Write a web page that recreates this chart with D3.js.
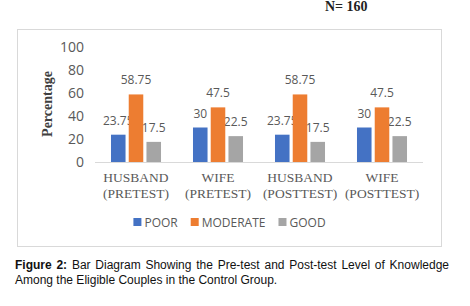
<!DOCTYPE html>
<html>
<head>
<meta charset="utf-8">
<script src="https://cdn.jsdelivr.net/npm/d3@7"></script>
<style>
  body { margin: 0; background: #fff; }
  svg { display: block; }
</style>
</head>
<body>
<div id="chart"></div>
<script>
// chart values
const groups = ["HUSBAND (PRETEST)", "WIFE (PRETEST)", "HUSBAND (POSTTEST)", "WIFE (POSTTEST)"];
const groupLines = [["HUSBAND", "(PRETEST)"], ["WIFE", "(PRETEST)"], ["HUSBAND", "(POSTTEST)"], ["WIFE", "(POSTTEST)"]];
const seriesNames = ["POOR", "MODERATE", "GOOD"];
const poor = [23.75, 30, 23.75, 30];
const moderate = [58.75, 47.5, 58.75, 47.5];
const good = [17.5, 22.5, 17.5, 22.5];
const yTicks = [0, 20, 40, 60, 80, 100];

const series = [poor, moderate, good];
const colors = ["#4472C4", "#ED7D31", "#A5A5A5"];

var width = 470, height = 306;

var svg = d3.select("#chart").append("svg")
  .attr("width", width)
  .attr("height", height);

// N label
svg.append("text")
  .attr("x", 325).attr("y", 11)
  .style("font-family", "'Liberation Serif', serif")
  .style("font-weight", "bold")
  .style("font-size", "14px")
  .attr("fill", "#222")
  .text("N= 160");

// chart box
svg.append("rect")
  .attr("x", 17.5).attr("y", 29.5)
  .attr("width", 424).attr("height", 217)
  .attr("fill", "#fff")
  .attr("stroke", "#d9d9d9");

var x0 = d3.scaleBand()
  .domain(groups)
  .range([95, 423])
  .paddingInner(0.39)
  .paddingOuter(0.195);

var x1 = d3.scaleBand()
  .domain(seriesNames)
  .range([0, x0.bandwidth()])
  .paddingInner(0.18);

var y = d3.scaleLinear()
  .domain([0, 100])
  .range([162, 47]);

// y axis (labels only)
var yAxis = svg.append("g")
  .attr("transform", "translate(84,0)")
  .call(d3.axisLeft(y).tickValues(yTicks).tickSize(0).tickPadding(0));
yAxis.select(".domain").remove();
yAxis.selectAll("text")
  .style("font-family", "'Open Sans', sans-serif")
  .style("font-size", "14px")
  .attr("fill", "#595959");

// y title
svg.append("text")
  .attr("transform", "translate(52," + 104 + ") rotate(-90)")
  .attr("text-anchor", "middle")
  .style("font-family", "'Liberation Serif', serif")
  .style("font-weight", "bold")
  .style("font-size", "14px")
  .attr("fill", "#404040")
  .text("Percentage");

// baseline
svg.append("line")
  .attr("x1", 95).attr("x2", 423)
  .attr("y1", y(0) + 0.5).attr("y2", y(0) + 0.5)
  .attr("stroke", "#d9d9d9");

// value labels (drawn under bars)
series.forEach(function(vals, si) {
  svg.append("g").selectAll("text")
    .data(vals)
    .enter().append("text")
      .attr("x", function(d, i) { return x0(groups[i]) + x1(seriesNames[si]) + x1.bandwidth() / 2; })
      .attr("y", function(d) { return y(d) - 10; })
      .attr("text-anchor", "middle")
      .style("font-family", "'Open Sans', sans-serif")
      .style("font-size", "12px")
      .attr("fill", "#595959")
      .text(function(d) { return d; });
});

// bars
series.forEach(function(vals, si) {
  svg.append("g").selectAll("rect")
    .data(vals)
    .enter().append("rect")
      .attr("x", function(d, i) { return x0(groups[i]) + x1(seriesNames[si]); })
      .attr("y", function(d) { return y(d); })
      .attr("width", x1.bandwidth())
      .attr("height", function(d) { return y(0) - y(d); })
      .attr("fill", colors[si]);
});

// category labels
groupLines.forEach(function(lines, i) {
  var t = svg.append("text")
    .attr("text-anchor", "middle")
    .style("font-family", "'Liberation Serif', serif")
    .style("font-size", "13.5px")
    .attr("fill", "#595959");
  lines.forEach(function(l, j) {
    t.append("tspan")
      .attr("x", x0(groups[i]) + x0.bandwidth() / 2)
      .attr("y", 182 + j * 16)
      .text(l);
  });
});

// legend
var legend = svg.append("g");
var lx = 0;
seriesNames.forEach(function(name, i) {
  var item = legend.append("g").attr("transform", "translate(" + lx + ",0)");
  item.append("rect")
    .attr("x", 0).attr("y", -4)
    .attr("width", 8).attr("height", 8)
    .attr("fill", colors[i]);
  var txt = item.append("text")
    .attr("x", 11).attr("y", 4.5)
    .style("font-family", "'Open Sans', sans-serif")
    .style("font-size", "12px")
    .attr("fill", "#595959")
    .text(name);
  lx += 11 + txt.node().getComputedTextLength() + 13;
});
var legendW = lx - 13;
legend.attr("transform", "translate(" + (229.5 - legendW / 2) + ",222)");

// caption
var cap1 = svg.append("text")
  .attr("x", 15).attr("y", 269)
  .style("font-family", "'Liberation Sans', Arial, sans-serif")
  .style("font-size", "12px")
  .attr("fill", "#111");
cap1.append("tspan").style("font-weight", "bold").text("Figure 2:");
cap1.append("tspan").text(" Bar Diagram Showing the Pre-test and Post-test Level of Knowledge");
var natural = cap1.node().getComputedTextLength();
var spaces = 11;
cap1.style("word-spacing", ((434 - natural) / spaces) + "px");

svg.append("text")
  .attr("x", 15).attr("y", 284)
  .style("font-family", "'Liberation Sans', Arial, sans-serif")
  .style("font-size", "12px")
  .attr("fill", "#111")
  .text("Among the Eligible Couples in the Control Group.");
</script>
</body>
</html>
